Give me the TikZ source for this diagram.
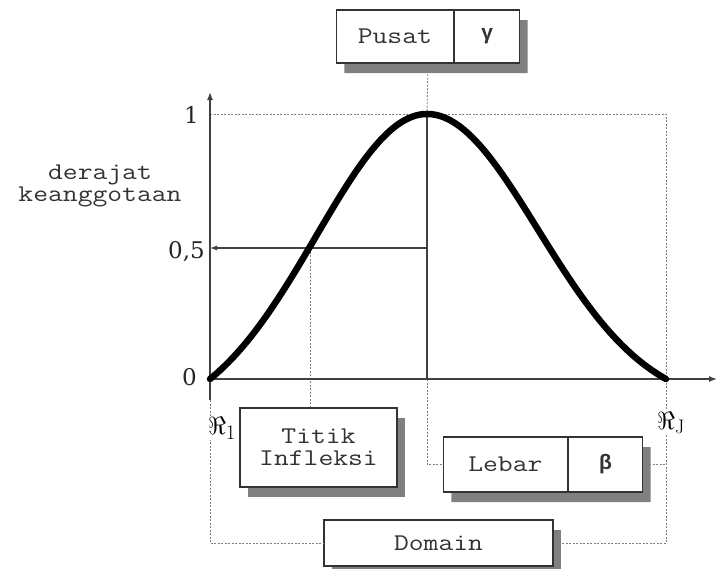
\documentclass[tikz,border=0pt]{standalone}
\usepackage{fontspec}
\usepackage{amsmath}
\setmonofont{Latin Modern Mono}[FakeStretch=1.2]
\newfontfamily\numfont{DejaVu Serif}
\newfontfamily\grkfont{Liberation Sans}
\usetikzlibrary{arrows.meta,shapes.multipart,shadows}

\begin{document}
\begin{tikzpicture}[x=1pt, y=-1pt,
  font=\ttfamily\fontsize{24}{22}\selectfont,
  axis/.style={line width=1.4pt, draw=black!75},
  curve/.style={line width=6.5pt, line cap=round},
  guide/.style={draw=black!50, line width=0.9pt, dash pattern=on 2pt off 1.5pt},
  box/.style={draw=black!80, line width=1.2pt, fill=white, align=center, inner sep=0pt, text=black!80,
    general shadow={fill=black!50, shadow xshift=8pt, shadow yshift=-10pt}},
  splitbox/.style={box, rectangle split, rectangle split horizontal, rectangle split parts=2, rectangle split draw splits=true},
  num/.style={font=\numfont\fontsize{23}{23}\selectfont, anchor=east, inner sep=0pt, text=black!85},
  reals/.style={fill=white, inner sep=1pt, font=\fontsize{28}{28}\selectfont}
]
\useasboundingbox (0,0) rectangle (717,568);

% key points of the curve
\coordinate (O) at (210,379);
\coordinate (top) at (427,114);
\coordinate (mid) at (427,248);
\coordinate (infl) at (310,248);
\coordinate (end) at (666,379);

\node[box, minimum width=157pt, minimum height=79pt] (titik) at (318.5,447.5) {Titik\\Infleksi};
\node[box, minimum width=229pt, minimum height=46pt] (domain) at (438.5,543) {Domain};

% dotted guides behind the boxes
\draw[guide] (O |- top) -- (end |- top) -- (end |- domain) -- (domain.east);
\draw[guide] (O) -- (O |- domain) -- (domain.west);
\draw[guide] (infl) -- (infl |- titik.north);
\draw[guide] (top |- O) -- (top |- 0,464.5) -- (444,464.5);
\draw[guide] (642,464.5) -- (end |- 0,464.5);

\node[splitbox, minimum height=53pt] (pusat) at (428,36.5)
  {\makebox[117pt]{Pusat}\nodepart{two}\makebox[65pt]{\grkfont\bfseries\fontsize{21}{21}\selectfont γ}};
\node[splitbox, minimum height=55pt] (lebar) at (543,464.5)
  {\makebox[124pt]{Lebar}\nodepart{two}\makebox[74pt]{\grkfont\bfseries\fontsize{21}{21}\selectfont β}};
\draw[guide] (pusat.south) -- (top);

\node[reals] (r1) at (222,428) {$\Re_1$};
\node[reals] (rj) at (671,423) {$\Re_{\mathrm{J}}$};

% axes
\draw[axis, -{Latex[length=8pt,width=6pt]}] (O) ++(0,21) -- (210,92);
\draw[axis, -{Latex[length=8pt,width=6pt]}] (O) ++(-3,0) -- (717,379);
\draw[axis, line width=1.2pt] (top) -- (top |- O);
\draw[axis, line width=1.2pt, -{Latex[length=7pt,width=5pt]}] (mid) -- (O |- mid);

% membership curve
\draw[curve] plot[domain=-2.17:0, samples=60, smooth]
  ({427+100*\x},{379-265*(exp(-\x*\x/2.4642)-0.1479)/0.8521});
\draw[curve] plot[domain=0:2.39, samples=60, smooth]
  ({427+100*\x},{379-265*(exp(-\x*\x/2.4642)-0.0985)/0.9015});

\node[num] (one) at (199,115) {1};
\node[num] (half) at (205,252) {0,5};
\node[num] (zero) at (197,377) {0};
\node[align=center, text=black!80] (deg) at (100,186) {derajat\\keanggotaan};

\end{tikzpicture}
\end{document}
